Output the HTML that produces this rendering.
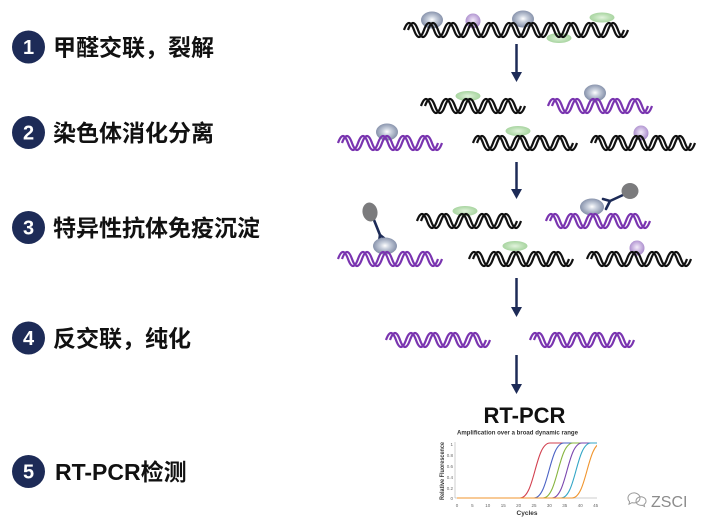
<!DOCTYPE html>
<html><head><meta charset="utf-8"><style>
html,body{margin:0;padding:0;background:#fff;}
svg{display:block;}
.cn{font-family:"Liberation Sans","Noto Sans CJK SC",sans-serif;font-weight:bold;font-size:23px;fill:#111;}
.num{font-family:"Liberation Sans",sans-serif;font-weight:bold;font-size:20px;fill:#fff;}
.sm{font-family:"Liberation Sans",sans-serif;fill:#666;font-size:4.5px;}
</style></head><body>
<svg width="710" height="529" viewBox="0 0 710 529" xmlns="http://www.w3.org/2000/svg">
<defs>
  <radialGradient id="gball" cx="50%" cy="48%" r="55%">
    <stop offset="0" stop-color="#ffffff"/>
    <stop offset="0.35" stop-color="#c9d0dd"/>
    <stop offset="1" stop-color="#7b87a2"/>
  </radialGradient>
  <radialGradient id="pball" cx="50%" cy="45%" r="55%">
    <stop offset="0" stop-color="#f3ebfa"/>
    <stop offset="1" stop-color="#a585c9"/>
  </radialGradient>
  <radialGradient id="gre" cx="50%" cy="50%" r="55%">
    <stop offset="0" stop-color="#e2f3dd"/>
    <stop offset="0.6" stop-color="#b9deb2"/>
    <stop offset="1" stop-color="#a4d29c"/>
  </radialGradient>
  <g id="h" fill="none" stroke-width="2.2">
    <path d="M0 1q5 -14 10 0t10 0t10 0t10 0t10 0t10 0t10 0t10 0t10 0t10 0"/>
    <path d="M4 1q5 -14 10 0t10 0t10 0t10 0t10 0t10 0t10 0t10 0t10 0t10 0"/>
  </g>
  <g id="hl" fill="none" stroke-width="2.2">
    <path d="M0 1q5 -14 10 0t10 0t10 0t10 0t10 0t10 0t10 0t10 0t10 0t10 0t10 0t10 0t10 0t10 0t10 0t10 0t10 0t10 0t10 0t10 0t10 0t10 0"/>
    <path d="M4 1q5 -14 10 0t10 0t10 0t10 0t10 0t10 0t10 0t10 0t10 0t10 0t10 0t10 0t10 0t10 0t10 0t10 0t10 0t10 0t10 0t10 0t10 0t10 0"/>
  </g>
  <clipPath id="plot"><rect x="440" y="438" width="157" height="70"/></clipPath>
</defs>

<!-- Left column -->
<g>
  <circle cx="28.5" cy="47" r="16.5" fill="#1d2b57"/>
  <text class="num" x="28.5" y="54" text-anchor="middle">1</text>
  <text class="cn" x="53" y="55.5">甲醛交联，裂解</text>

  <circle cx="28.5" cy="132.5" r="16.5" fill="#1d2b57"/>
  <text class="num" x="28.5" y="139.5" text-anchor="middle">2</text>
  <text class="cn" x="53" y="141">染色体消化分离</text>

  <circle cx="28.5" cy="227.5" r="16.5" fill="#1d2b57"/>
  <text class="num" x="28.5" y="234.5" text-anchor="middle">3</text>
  <text class="cn" x="53" y="236">特异性抗体免疫沉淀</text>

  <circle cx="28.5" cy="338" r="16.5" fill="#1d2b57"/>
  <text class="num" x="28.5" y="345" text-anchor="middle">4</text>
  <text class="cn" x="53" y="346.5">反交联，纯化</text>

  <circle cx="28.5" cy="471.5" r="16.5" fill="#1d2b57"/>
  <text class="num" x="28.5" y="478.5" text-anchor="middle">5</text>
  <text class="cn" x="55" y="480">RT-PCR检测</text>
</g>

<!-- Top row -->
<ellipse cx="559" cy="38" rx="12.5" ry="5" fill="url(#gre)"/>
<ellipse cx="432" cy="20" rx="11" ry="8.5" fill="url(#gball)"/>
<circle cx="473" cy="21" r="7.5" fill="url(#pball)"/>
<ellipse cx="523" cy="19" rx="11" ry="8.5" fill="url(#gball)"/>
<ellipse cx="602" cy="17.5" rx="12.5" ry="5" fill="url(#gre)"/>
<use href="#hl" x="404" y="29" stroke="#111"/>

<!-- Arrows -->
<g fill="#1d2b57" stroke="#1d2b57">
  <line x1="516.5" y1="44" x2="516.5" y2="73" stroke-width="2.5"/>
  <polygon points="511,72 522,72 516.5,82" stroke="none"/>
  <line x1="516.5" y1="162" x2="516.5" y2="190" stroke-width="2.5"/>
  <polygon points="511,189 522,189 516.5,199" stroke="none"/>
  <line x1="516.5" y1="278" x2="516.5" y2="308" stroke-width="2.5"/>
  <polygon points="511,307 522,307 516.5,317" stroke="none"/>
  <line x1="516.5" y1="355" x2="516.5" y2="385" stroke-width="2.5"/>
  <polygon points="511,384 522,384 516.5,394" stroke="none"/>
</g>

<!-- Row 1 -->
<ellipse cx="468" cy="96" rx="12.5" ry="5" fill="url(#gre)"/>
<ellipse cx="595" cy="93" rx="11" ry="8.5" fill="url(#gball)"/>
<use href="#h" x="421" y="105" stroke="#111"/>
<use href="#h" x="548" y="105" stroke="#7a35b0"/>

<!-- Row 2 -->
<ellipse cx="387" cy="132" rx="11" ry="8.5" fill="url(#gball)"/>
<ellipse cx="518" cy="131" rx="12.5" ry="5" fill="url(#gre)"/>
<circle cx="641" cy="133" r="7.5" fill="url(#pball)"/>
<use href="#h" x="338" y="142" stroke="#7a35b0"/>
<use href="#h" x="473" y="142" stroke="#111"/>
<use href="#h" x="591" y="142" stroke="#111"/>

<!-- Row 3 -->
<ellipse cx="465" cy="211" rx="12.5" ry="5" fill="url(#gre)"/>
<g stroke="#1d2b57" stroke-width="2.6" stroke-linecap="round" fill="none">
  <line x1="603" y1="199" x2="610" y2="201"/>
  <line x1="610" y1="201" x2="606" y2="209"/>
  <line x1="610" y1="201" x2="623" y2="195"/>
</g>
<ellipse cx="630" cy="191" rx="8.5" ry="8" fill="#7b7b7d"/>
<ellipse cx="592" cy="207" rx="12" ry="8.5" fill="url(#gball)"/>
<use href="#h" x="417" y="220" stroke="#111"/>
<use href="#h" x="546" y="220" stroke="#7a35b0"/>

<!-- Row 4 -->
<g stroke="#1d2b57" stroke-width="2.6" stroke-linecap="round" fill="none">
  <line x1="374" y1="220" x2="380" y2="235"/>
  <line x1="380" y1="235" x2="379" y2="242"/>
  <line x1="380" y1="235" x2="389" y2="242"/>
</g>
<ellipse cx="370" cy="212" rx="7.5" ry="9.5" fill="#7b7b7d" transform="rotate(-10 370 212)"/>
<ellipse cx="385" cy="246" rx="12" ry="8.5" fill="url(#gball)"/>
<ellipse cx="515" cy="246" rx="12.5" ry="5" fill="url(#gre)"/>
<circle cx="637" cy="248" r="7.5" fill="url(#pball)"/>
<use href="#h" x="338" y="258" stroke="#7a35b0"/>
<use href="#h" x="469" y="258" stroke="#111"/>
<use href="#h" x="587" y="258" stroke="#111"/>

<!-- Row 5 -->
<use href="#h" x="386" y="339" stroke="#7a35b0"/>
<use href="#h" x="530" y="339" stroke="#7a35b0"/>

<!-- RT-PCR chart -->
<text x="524.5" y="423" text-anchor="middle" font-family="Liberation Sans, sans-serif" font-weight="bold" font-size="22" fill="#111">RT-PCR</text>
<text x="457" y="434.5" font-family="Liberation Sans, sans-serif" font-weight="bold" font-size="6.5" fill="#333" textLength="121" lengthAdjust="spacingAndGlyphs">Amplification over a broad dynamic range</text>
<text transform="translate(444 471) rotate(-90)" text-anchor="middle" font-family="Liberation Sans, sans-serif" font-weight="bold" font-size="6" fill="#333" textLength="58" lengthAdjust="spacingAndGlyphs">Relative Fluorescence</text>
<line x1="455" y1="442" x2="455" y2="498" stroke="#bbb" stroke-width="0.7"/>
<line x1="455" y1="498" x2="597" y2="498" stroke="#bbb" stroke-width="0.7"/>
<g class="sm" text-anchor="end">
  <text x="453" y="446">1</text>
  <text x="453" y="457">0.8</text>
  <text x="453" y="468">0.6</text>
  <text x="453" y="479">0.4</text>
  <text x="453" y="490">0.2</text>
  <text x="453" y="500">0</text>
</g>
<g class="sm" text-anchor="middle">
  <text x="457" y="507">0</text>
  <text x="472.4" y="507">5</text>
  <text x="487.8" y="507">10</text>
  <text x="503.2" y="507">15</text>
  <text x="518.6" y="507">20</text>
  <text x="534" y="507">25</text>
  <text x="549.4" y="507">30</text>
  <text x="564.8" y="507">35</text>
  <text x="580.2" y="507">40</text>
  <text x="595.6" y="507">45</text>
</g>
<text x="527" y="515" text-anchor="middle" font-family="Liberation Sans, sans-serif" font-weight="bold" font-size="6.5" fill="#333">Cycles</text>
<g fill="none" stroke-width="1.1" clip-path="url(#plot)">
  <path d="M457 498H520C535 498 535 443 550 443H597" stroke="#d2404f"/>
  <path d="M457 498H534C549 498 549 443 564 443H597" stroke="#4a62c4"/>
  <path d="M457 498H543C558 498 558 443 573 443H597" stroke="#86b43e"/>
  <path d="M457 498H552C567 498 567 443 582 443H597" stroke="#7a46ae"/>
  <path d="M457 498H561C576 498 576 443 591 443H597" stroke="#33a6c6"/>
  <path d="M457 498H572C587 498 587 443 602 443H597" stroke="#f0952e"/>
</g>

<!-- watermark -->
<g fill="none" stroke="#9a9a9a" stroke-width="1">
  <path d="M628 498a6 5 0 1 1 4 4.6l-3 1.6 0.6 -2.6a6 5 0 0 1 -1.6 -3.6z"/>
  <path d="M636 501a5 4.2 0 1 1 8 3.4l0.5 2 -2.4 -1.2a5 4.2 0 0 1 -6.1 -4.2z"/>
</g>
<text x="651" y="507" font-family="Liberation Sans, sans-serif" font-size="16" fill="#8c8c8c">ZSCI</text>
</svg>
</body></html>
